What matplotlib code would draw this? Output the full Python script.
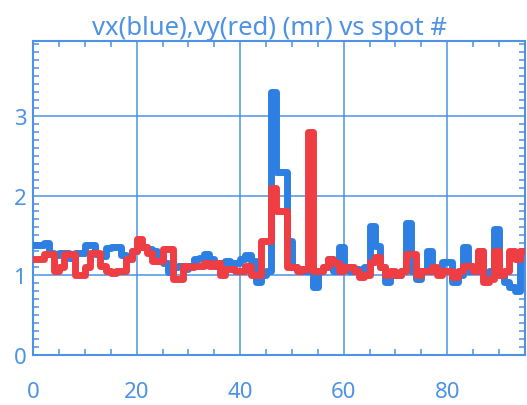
import numpy as np
import matplotlib
matplotlib.use("Agg")
import matplotlib.pyplot as plt
from matplotlib.ticker import MultipleLocator

# spot numbers and the two series (mr)
spot = np.arange(96)
vx = [1.38, 1.38, 1.40, 1.28, 1.25, 1.28, 1.28, 1.22, 1.28, 1.28,
      1.38, 1.38, 1.27, 1.24, 1.34, 1.35, 1.36, 1.25, 1.20, 1.30,
      1.35, 1.35, 1.33, 1.30, 1.20, 1.15, 1.04, 1.10, 1.12, 1.08,
      1.12, 1.20, 1.22, 1.27, 1.20, 1.12, 1.15, 1.18, 1.15, 1.15,
      1.20, 1.25, 1.18, 0.92, 1.00, 1.05, 3.30, 2.30, 2.30, 1.43,
      1.10, 1.08, 1.05, 1.05, 0.85, 1.05, 1.10, 1.20, 1.05, 1.35,
      1.10, 1.05, 1.08, 1.05, 1.10, 1.62, 1.37, 1.10, 0.92, 1.00,
      1.00, 1.05, 1.65, 1.05, 0.95, 1.05, 1.30, 1.05, 1.05, 1.17,
      1.17, 0.92, 1.00, 1.36, 1.05, 1.05, 1.30, 1.00, 1.05, 1.58,
      1.00, 0.92, 0.85, 0.80, 1.30, 1.30]
vy = [1.20, 1.20, 1.27, 1.27, 1.05, 1.10, 1.27, 1.27, 1.00, 1.00,
      1.10, 1.28, 1.28, 1.12, 1.05, 1.03, 1.05, 1.05, 1.20, 1.30,
      1.46, 1.35, 1.28, 1.18, 1.18, 1.33, 1.33, 0.95, 0.95, 1.12,
      1.10, 1.12, 1.12, 1.15, 1.12, 1.15, 1.00, 1.08, 1.08, 1.05,
      1.05, 1.12, 1.00, 1.00, 1.43, 1.43, 2.10, 1.80, 1.80, 1.10,
      1.10, 1.05, 1.08, 2.80, 1.05, 1.05, 1.10, 1.20, 1.15, 1.05,
      1.10, 1.10, 1.05, 0.98, 1.00, 1.17, 1.23, 1.10, 1.00, 1.05,
      1.00, 1.05, 1.27, 1.27, 1.00, 1.05, 1.05, 1.10, 1.00, 1.05,
      1.05, 0.98, 1.05, 1.12, 1.12, 1.05, 1.30, 0.92, 0.95, 1.30,
      1.00, 1.05, 1.30, 1.20, 1.31, 1.31]

axcol = "#4d92e4"
blue = "#2d7fe2"
red = "#ef3d44"

plt.rcParams['font.family'] = ['Noto Sans', 'DejaVu Sans']

fig = plt.figure(figsize=(5.27, 4.06), dpi=100)
ax = fig.add_axes([0.063, 0.123, 0.933, 0.774])

ax.plot(spot, vx, drawstyle="steps-post", color=blue, lw=5,
        solid_joinstyle="round", solid_capstyle="round", zorder=3)
ax.plot(spot, vy, drawstyle="steps-post", color=red, lw=5,
        solid_joinstyle="round", solid_capstyle="round", zorder=4)

ax.set_xlim(0, 95)
ax.set_ylim(0, 3.94)
ax.xaxis.set_major_locator(MultipleLocator(20))
ax.xaxis.set_minor_locator(MultipleLocator(5))
ax.yaxis.set_major_locator(MultipleLocator(1))
ax.yaxis.set_minor_locator(MultipleLocator(0.1))

ax.grid(True, which="major", color=axcol, lw=1.1, zorder=1)
for s in ax.spines.values():
    s.set_color(axcol)
    s.set_linewidth(1.5)

ax.tick_params(which="both", direction="in", color=axcol, top=True, right=True,
               labelcolor=axcol, labelsize=16)
ax.tick_params(which="major", length=0, width=1.1)
ax.tick_params(which="minor", length=4.5, width=1.1)
ax.tick_params(axis="x", pad=19)
ax.tick_params(axis="y", pad=5)

ax.set_title("vx(blue),vy(red) (mr) vs spot #", color=axcol, fontsize=18.5,
             pad=5, x=0.48)

fig.savefig("out.png", dpi=100)
